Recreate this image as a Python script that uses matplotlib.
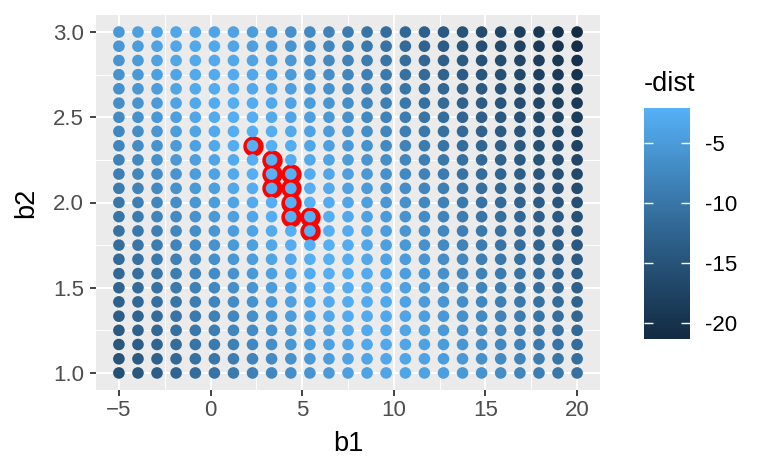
import numpy as np
import matplotlib
matplotlib.use("Agg")
import matplotlib.pyplot as plt
from matplotlib.colors import ListedColormap, Normalize

plt.rcParams['font.family'] = ['Liberation Sans', 'DejaVu Sans']

# grid of candidate models (intercept b1, slope b2)
b1_vals = [-5.00, -3.96, -2.92, -1.88, -0.83, 0.21, 1.25, 2.29, 3.33, 4.38,
           5.42, 6.46, 7.50, 8.54, 9.58, 10.63, 11.67, 12.71, 13.75, 14.79,
           15.83, 16.88, 17.92, 18.96, 20.00]
b2_vals = [1.000, 1.083, 1.167, 1.250, 1.333, 1.417, 1.500, 1.583, 1.667, 1.750,
           1.833, 1.917, 2.000, 2.083, 2.167, 2.250, 2.333, 2.417, 2.500, 2.583,
           2.667, 2.750, 2.833, 2.917, 3.000]

# observed data the models are scored against
obs_x = [1, 1, 1, 2, 2, 2, 3, 3, 3, 4, 4, 4, 5, 5, 5,
         6, 6, 6, 7, 7, 7, 8, 8, 8, 9, 9, 9, 10, 10, 10]
obs_y = [4.20, 7.51, 2.13, 8.99, 10.24, 11.30, 7.36, 10.51, 10.51, 12.43, 11.89, 14.26,
         19.13, 11.74, 16.02, 13.27, 16.50, 18.50, 20.43, 16.64, 18.64, 22.50, 18.27, 21.09,
         25.10, 20.40, 22.51, 26.64, 22.60, 23.81]

# the ten best models (red rings)
best_b1 = [2.29, 3.33, 3.33, 3.33, 4.38, 4.38, 4.38, 4.38, 5.42, 5.42]
best_b2 = [2.333, 2.250, 2.167, 2.083, 2.167, 2.083, 2.000, 1.917, 1.917, 1.833]

# colour scale limits as shown in the legend
neg_dist_lim = (-21.33, -2.08)
legend_ticks = [-5, -10, -15, -20]


# ggplot-style gradient (#132B43 -> #56B1F7) interpolated in Lab space
def _to_lab(rgb):
    rgb = np.asarray(rgb, float)
    lin = np.where(rgb <= 0.04045, rgb / 12.92, ((rgb + 0.055) / 1.055) ** 2.4)
    m = np.array([[0.4124, 0.3576, 0.1805], [0.2126, 0.7152, 0.0722], [0.0193, 0.1192, 0.9505]])
    xyz = m @ lin / np.array([0.95047, 1.0, 1.08883])
    f = np.where(xyz > 0.008856, np.cbrt(xyz), 7.787 * xyz + 16 / 116)
    return np.array([116 * f[1] - 16, 500 * (f[0] - f[1]), 200 * (f[1] - f[2])])


def _from_lab(lab):
    fy = (lab[0] + 16) / 116
    f = np.array([fy + lab[1] / 500, fy, fy - lab[2] / 200])
    xyz = np.where(f ** 3 > 0.008856, f ** 3, (f - 16 / 116) / 7.787) * np.array([0.95047, 1.0, 1.08883])
    mi = np.array([[3.2406, -1.5372, -0.4986], [-0.9689, 1.8758, 0.0415], [0.0557, -0.2040, 1.0570]])
    lin = np.clip(mi @ xyz, 0, 1)
    return np.where(lin <= 0.0031308, 12.92 * lin, 1.055 * lin ** (1 / 2.4) - 0.055)


lo = _to_lab(matplotlib.colors.to_rgb('#132B43'))
hi = _to_lab(matplotlib.colors.to_rgb('#56B1F7'))
cmap = ListedColormap([np.clip(_from_lab(lo + (hi - lo) * t), 0, 1) for t in np.linspace(0, 1, 256)])
norm = Normalize(*neg_dist_lim)

# score each model by root-mean-square distance
gx, gy = np.meshgrid(b1_vals, b2_vals)
ox, oy = np.array(obs_x), np.array(obs_y)
pred = gx[..., None] + gy[..., None] * ox
dist = np.sqrt(((oy - pred) ** 2).mean(axis=-1))

fig = plt.figure(figsize=(7.68, 4.76), dpi=100)
ax = fig.add_axes([96 / 768, 86 / 476, 504 / 768, 375 / 476])
ax.set_facecolor('#EBEBEB')
for s in ax.spines.values():
    s.set_visible(False)
ax.set_xlim(-6.25, 21.25)
ax.set_ylim(0.9, 3.1)
ax.set_xticks([-5, 0, 5, 10, 15, 20])
ax.set_xticks([-2.5, 2.5, 7.5, 12.5, 17.5], minor=True)
ax.set_yticks([1.0, 1.5, 2.0, 2.5, 3.0])
ax.set_yticks([1.25, 1.75, 2.25, 2.75], minor=True)
ax.set_yticklabels(['1.0', '1.5', '2.0', '2.5', '3.0'])
ax.grid(which='major', color='white', lw=1.4)
ax.grid(which='minor', color='white', lw=0.7)
ax.set_axisbelow(True)
ax.tick_params(which='major', length=4.5, width=1.3, color='#333333', labelcolor='#4D4D4D',
               labelsize=16, pad=3)
ax.tick_params(axis='y', pad=4)
ax.tick_params(which='minor', length=0)

ax.scatter(best_b1, best_b2, s=215, color='red', lw=0, zorder=2)
ax.scatter(gx.ravel(), gy.ravel(), c=-dist.ravel(), cmap=cmap, norm=norm, s=70, lw=0, zorder=3)

ax.set_xlabel('b1', fontsize=19.5, labelpad=7)
ax.set_ylabel('b2', fontsize=19.5, labelpad=10)

# colour bar legend
cax = fig.add_axes([644 / 768, 137 / 476, 46 / 768, 231 / 476])
grad = np.linspace(neg_dist_lim[0], neg_dist_lim[1], 300).reshape(-1, 1)
cax.imshow(grad, cmap=cmap, norm=norm, aspect='auto', origin='lower',
           extent=[0, 1, neg_dist_lim[0], neg_dist_lim[1]])
cax.set_xlim(0, 1)
cax.set_ylim(*neg_dist_lim)
for s in cax.spines.values():
    s.set_visible(False)
cax.set_xticks([])
cax.yaxis.tick_right()
cax.set_yticks(legend_ticks)
cax.set_yticklabels([str(t) for t in legend_ticks])
cax.tick_params(axis='y', length=0, labelsize=16, pad=11, labelcolor='black')
cax.hlines(legend_ticks, 0, 0.2, color='white', lw=1)
cax.hlines(legend_ticks, 0.8, 1, color='white', lw=1)
fig.text(644 / 768, 1 - 91 / 476, '-dist', fontsize=19.5, ha='left', va='baseline')

fig.savefig('out.png', dpi=100)
